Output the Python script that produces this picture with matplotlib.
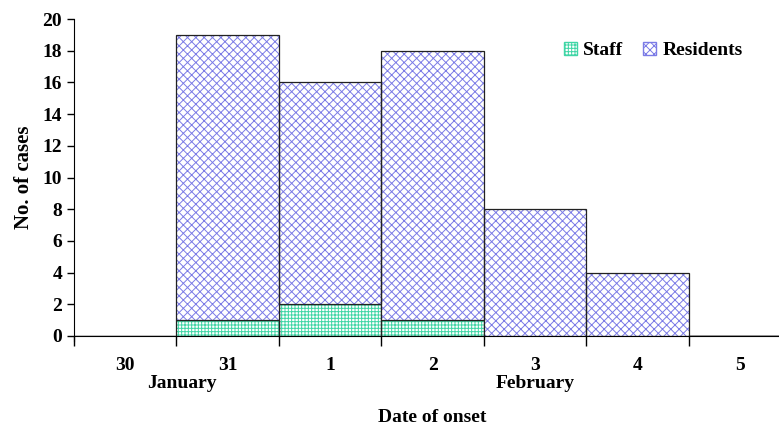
import matplotlib.pyplot as plt
from matplotlib.patches import Patch

# Epidemic curve data
days = ["30", "31", "1", "2", "3", "4", "5"]
staff = [0, 1, 2, 1, 0, 0, 0]
residents = [0, 18, 14, 17, 8, 4, 0]
months = [("January", 0.55), ("February", 4.0)]

plt.rcParams['font.family'] = ['Liberation Serif', 'DejaVu Serif']
plt.rcParams['font.weight'] = 'bold'
plt.rcParams['hatch.linewidth'] = 0.7

staff_col = '#40d6a6'
res_col = '#7b7be6'
fs = 14

fig = plt.figure(figsize=(7.79, 4.25), dpi=100)
W, H = 779, 425
step = 102.5
ax = fig.add_axes([74 / W, (H - 336) / H, 7 * step / W, 317 / H])

x = list(range(len(days)))
ax.bar(x, staff, width=1.0, color='white', edgecolor=staff_col, hatch='+++++', linewidth=0)
ax.bar(x, staff, width=1.0, fill=False, edgecolor='#222222', linewidth=0.9)
ax.bar(x, residents, width=1.0, bottom=staff, color='white', edgecolor=res_col,
       hatch='xxxx', linewidth=0)
ax.bar(x, residents, width=1.0, bottom=staff, fill=False, edgecolor='#222222', linewidth=0.9)

ax.set_xlim(-0.5, len(days) - 0.5)
ax.set_ylim(0, 20)
ax.set_yticks(range(0, 21, 2))
ax.set_xticks([i - 0.5 for i in range(len(days) + 1)])
ax.set_xticklabels([])
ax.tick_params(axis='both', direction='out', length=5, width=1, labelsize=fs)
ax.tick_params(axis='x', length=7)
for i, d in enumerate(days):
    ax.text(i, -1.85, d, ha='center', va='center', fontsize=fs, fontweight='bold')
for name, pos in months:
    ax.text(pos, -3.0, name, ha='center', va='center', fontsize=fs, fontweight='bold')

ax.spines['top'].set_visible(False)
ax.spines['right'].set_visible(False)
ax.spines['left'].set_bounds(-0.3, 20)

fig.text(432 / W, 1 - 417 / H, "Date of onset", ha='center', va='center',
         fontsize=fs, fontweight='bold')
ax.set_ylabel("No. of cases", fontsize=fs + 1, fontweight='bold', labelpad=6)

handles = [Patch(facecolor='white', edgecolor=staff_col, hatch='+++++', label='Staff'),
           Patch(facecolor='white', edgecolor=res_col, hatch='xxxx', label='Residents')]
leg = ax.legend(handles=handles, loc='upper right', bbox_to_anchor=(760 / W, 1 - 24 / H),
                bbox_transform=fig.transFigure, ncol=2, frameon=False, fontsize=fs,
                handlelength=0.7, handleheight=0.7, handletextpad=0.3, columnspacing=1.0)

fig.savefig('out.png', dpi=100)
